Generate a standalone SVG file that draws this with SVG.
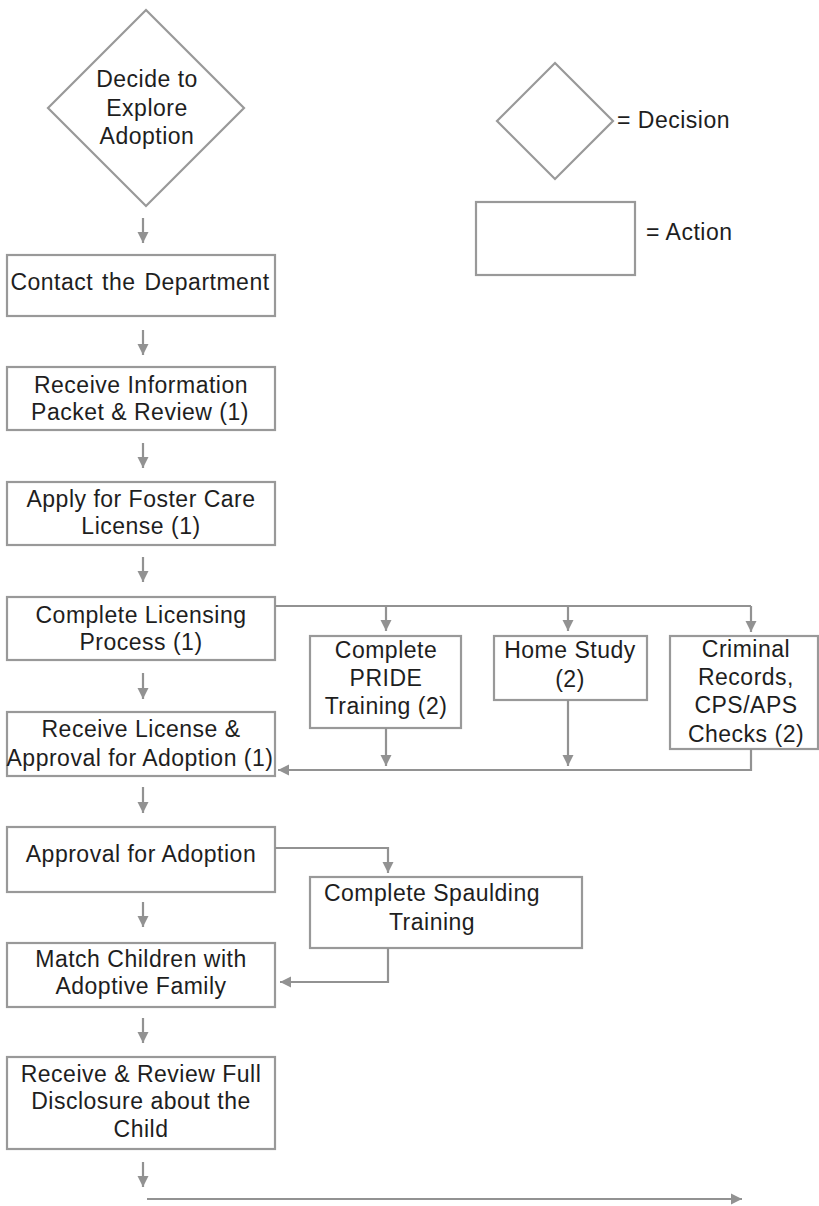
<svg xmlns="http://www.w3.org/2000/svg" width="819" height="1206" viewBox="0 0 819 1206">
<style>
.box{fill:#fff;stroke:#999;stroke-width:2.2}
.t{font-family:"Liberation Sans",Arial,sans-serif;font-size:23px;letter-spacing:0.5px;fill:#1e1e1e;text-anchor:middle}
.tl{font-family:"Liberation Sans",Arial,sans-serif;font-size:23px;letter-spacing:0.5px;fill:#1e1e1e}
.c{fill:none;stroke:#929292;stroke-width:2.2}
</style>
<defs>
<marker id="ah" markerUnits="userSpaceOnUse" markerWidth="12" markerHeight="12" refX="11" refY="6" orient="auto">
<path d="M0,0.5 L11,6 L0,11.5 z" fill="#929292"/>
</marker>
</defs>
<rect width="819" height="1206" fill="#fff"/>

<g id="legend">
<polygon class="box" points="555,63 613,121 555,179 497,121"/>
<text class="tl" x="617" y="128">= Decision</text>
<rect class="box" x="476" y="202" width="159" height="73"/>
<text class="tl" x="646" y="240">= Action</text>
</g>

<g id="n-decide">
<polygon class="box" points="146,10 244,108 146,206 48,108"/>
<text class="t" x="147" y="87">Decide to</text>
<text class="t" x="147" y="116">Explore</text>
<text class="t" x="147" y="144">Adoption</text>
</g>

<g id="n-contact">
<rect class="box" x="7" y="255" width="268" height="61"/>
<text class="t" x="140" y="290" word-spacing="2">Contact the Department</text>
</g>

<g id="n-info">
<rect class="box" x="7" y="367" width="268" height="63"/>
<text class="t" x="141" y="393">Receive Information</text>
<text class="t" x="140" y="420">Packet &amp; Review (1)</text>
</g>

<g id="n-apply">
<rect class="box" x="7" y="482" width="268" height="63"/>
<text class="t" x="141" y="507">Apply for Foster Care</text>
<text class="t" x="141" y="534">License (1)</text>
</g>

<g id="n-licensing">
<rect class="box" x="7" y="597" width="268" height="63"/>
<text class="t" x="141" y="623">Complete Licensing</text>
<text class="t" x="141" y="650">Process (1)</text>
</g>

<g id="n-pride">
<rect class="box" x="310" y="636" width="151" height="92"/>
<text class="t" x="386" y="658">Complete</text>
<text class="t" x="386" y="686">PRIDE</text>
<text class="t" x="386" y="714">Training (2)</text>
</g>

<g id="n-homestudy">
<rect class="box" x="494" y="636" width="153" height="64"/>
<text class="t" x="570" y="658">Home Study</text>
<text class="t" x="570" y="687">(2)</text>
</g>

<g id="n-criminal">
<rect class="box" x="670" y="636" width="148" height="113"/>
<text class="t" x="746" y="657">Criminal</text>
<text class="t" x="746" y="685">Records,</text>
<text class="t" x="746" y="713">CPS/APS</text>
<text class="t" x="746" y="742">Checks (2)</text>
</g>

<g id="n-license">
<rect class="box" x="7" y="712" width="268" height="64"/>
<text class="t" x="141" y="737">Receive License &amp;</text>
<text class="t" x="140" y="766" letter-spacing="0.2">Approval for Adoption (1)</text>
</g>

<g id="n-approval">
<rect class="box" x="7" y="827" width="268" height="65"/>
<text class="t" x="141" y="862">Approval for Adoption</text>
</g>

<g id="n-spaulding">
<rect class="box" x="310" y="877" width="272" height="71"/>
<text class="t" x="432" y="901">Complete Spaulding</text>
<text class="t" x="432" y="930">Training</text>
</g>

<g id="n-match">
<rect class="box" x="7" y="943" width="268" height="64"/>
<text class="t" x="141" y="967">Match Children with</text>
<text class="t" x="141" y="994">Adoptive Family</text>
</g>

<g id="n-disclosure">
<rect class="box" x="7" y="1057" width="268" height="92"/>
<text class="t" x="141" y="1082">Receive &amp; Review Full</text>
<text class="t" x="141" y="1109">Disclosure about the</text>
<text class="t" x="141" y="1137">Child</text>
</g>

<g id="connectors">
<path class="c" marker-end="url(#ah)" d="M143,218 V243"/>
<path class="c" marker-end="url(#ah)" d="M143,330 V355"/>
<path class="c" marker-end="url(#ah)" d="M143,443 V468"/>
<path class="c" marker-end="url(#ah)" d="M143,557 V582"/>
<path class="c" marker-end="url(#ah)" d="M143,673 V699"/>
<path class="c" marker-end="url(#ah)" d="M143,787 V813"/>
<path class="c" marker-end="url(#ah)" d="M143,902 V927"/>
<path class="c" marker-end="url(#ah)" d="M143,1018 V1043"/>
<path class="c" marker-end="url(#ah)" d="M143,1162 V1187"/>
<path class="c" d="M275,606 H751"/>
<path class="c" marker-end="url(#ah)" d="M386,606 V631"/>
<path class="c" marker-end="url(#ah)" d="M568,606 V631"/>
<path class="c" marker-end="url(#ah)" d="M751,606 V632"/>
<path class="c" marker-end="url(#ah)" d="M751,749 V770 H278"/>
<path class="c" marker-end="url(#ah)" d="M386,728 V766"/>
<path class="c" marker-end="url(#ah)" d="M568,700 V766"/>
<path class="c" marker-end="url(#ah)" d="M275,848 H388 V873"/>
<path class="c" marker-end="url(#ah)" d="M388,948 V982 H280"/>
<path class="c" marker-end="url(#ah)" d="M147,1199 H742"/>
</g>
</svg>
